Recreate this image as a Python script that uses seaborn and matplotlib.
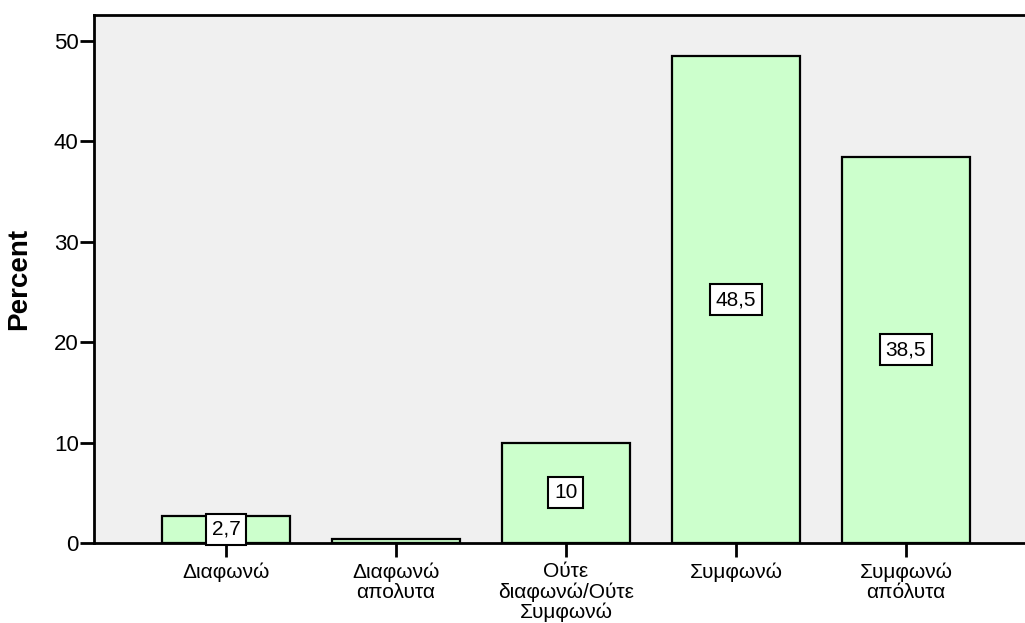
import pandas as pd
import matplotlib
matplotlib.use("Agg")
import matplotlib.pyplot as plt
import seaborn as sns

# Δεδομένα
categories = ["Διαφωνώ", "Διαφωνώ\nαπολυτα", "Ούτε\nδιαφωνώ/Ούτε\nΣυμφωνώ",
              "Συμφωνώ", "Συμφωνώ\nαπόλυτα"]
percent = [2.7, 0.4, 10.0, 48.5, 38.5]
bar_labels = ["2,7", "", "10", "48,5", "38,5"]
y_ticks = [0, 10, 20, 30, 40, 50]

df = pd.DataFrame({"cat": categories, "pct": percent})

sns.set_style("ticks")
plt.rcParams["font.family"] = ["Liberation Sans", "DejaVu Sans"]
plt.rcParams["text.color"] = "black"
plt.rcParams["axes.labelcolor"] = "black"

fig = plt.figure(figsize=(10.25, 6.23), dpi=100)
ax = fig.add_axes([94 / 1025, 80 / 623, 1 - 94 / 1025, 528 / 623])
ax.set_facecolor("#F0F0F0")

sns.barplot(data=df, x="cat", y="pct", color="#CCFFCC", edgecolor="black",
            linewidth=1.6, width=0.75, saturation=1, ax=ax)

# etiquetes dins de les barres
for i, (v, lab) in enumerate(zip(percent, bar_labels)):
    if lab:
        ax.text(i, v / 2, lab, ha="center", va="center", fontsize=15,
                color="black",
                bbox=dict(boxstyle="square,pad=0.28", facecolor="white",
                          edgecolor="black", linewidth=1.5))

ax.set_xlim(-0.776, 4.70)
ax.set_ylim(0, 52.6)
ax.set_yticks(y_ticks)
ax.tick_params(axis="both", direction="out", length=10, width=2, labelsize=15,
               color="black", labelcolor="black")
ax.tick_params(axis="y", labelsize=16, pad=1)
ax.tick_params(axis="x", pad=4)
for t in ax.get_xticklabels():
    t.set_linespacing(1.05)

ax.set_xlabel("")
ax.set_ylabel("Percent", fontsize=20, fontweight="bold", labelpad=16,
              color="black")

for side in ["left", "top", "bottom"]:
    ax.spines[side].set_color("black")
    ax.spines[side].set_linewidth(2)
ax.spines["right"].set_visible(False)

fig.savefig("out.png", dpi=100, facecolor="white")
